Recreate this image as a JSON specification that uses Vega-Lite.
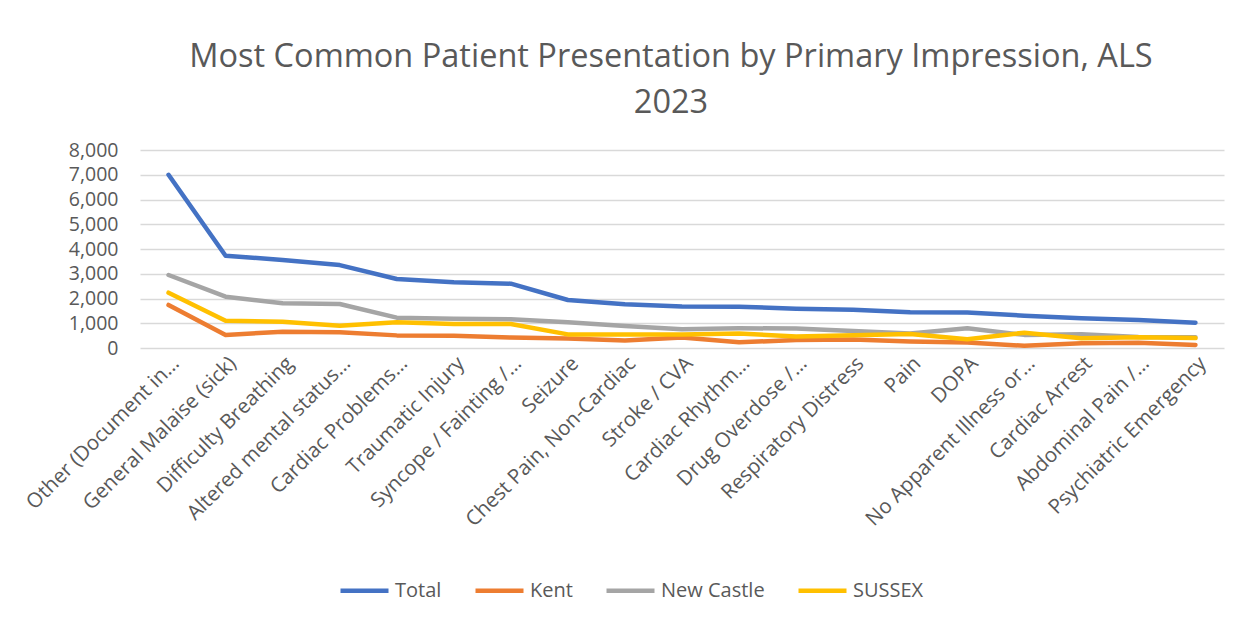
{
  "$schema": "https://vega.github.io/schema/vega-lite/v6.json",
  "width": 1084,
  "height": 198,
  "autosize": "none",
  "padding": {"left": 140, "top": 150, "right": 28, "bottom": 277},
  "background": "white",
  "title": {
    "text": ["Most Common Patient Presentation by Primary Impression, ALS", "2023"],
    "font": "Open Sans",
    "fontSize": 32.5,
    "fontWeight": "normal",
    "color": "#595959",
    "anchor": "middle",
    "lineHeight": 46,
    "offset": 21,
    "dx": -11
  },
  "datasets": {
    "rows": [
      {"cat": "Other (Document in…", "Total": 7000, "Kent": 1740, "New Castle": 2950, "SUSSEX": 2235},
      {"cat": "General Malaise  (sick)", "Total": 3730, "Kent": 525, "New Castle": 2075, "SUSSEX": 1105},
      {"cat": "Difficulty Breathing", "Total": 3555, "Kent": 660, "New Castle": 1805, "SUSSEX": 1065},
      {"cat": "Altered mental status…", "Total": 3350, "Kent": 640, "New Castle": 1780, "SUSSEX": 900},
      {"cat": "Cardiac Problems…", "Total": 2790, "Kent": 510, "New Castle": 1225, "SUSSEX": 1040},
      {"cat": "Traumatic Injury", "Total": 2660, "Kent": 495, "New Castle": 1185, "SUSSEX": 970},
      {"cat": "Syncope / Fainting /…", "Total": 2600, "Kent": 420, "New Castle": 1160, "SUSSEX": 970},
      {"cat": "Seizure", "Total": 1940, "Kent": 380, "New Castle": 1040, "SUSSEX": 550},
      {"cat": "Chest Pain, Non-Cardiac", "Total": 1765, "Kent": 300, "New Castle": 890, "SUSSEX": 550},
      {"cat": "Stroke / CVA", "Total": 1680, "Kent": 420, "New Castle": 760, "SUSSEX": 550},
      {"cat": "Cardiac Rhythm…", "Total": 1670, "Kent": 230, "New Castle": 795, "SUSSEX": 590},
      {"cat": "Drug Overdose /…", "Total": 1590, "Kent": 320, "New Castle": 790, "SUSSEX": 460},
      {"cat": "Respiratory Distress", "Total": 1550, "Kent": 340, "New Castle": 690, "SUSSEX": 520},
      {"cat": "Pain", "Total": 1440, "Kent": 260, "New Castle": 590, "SUSSEX": 565},
      {"cat": "DOPA", "Total": 1430, "Kent": 220, "New Castle": 800, "SUSSEX": 350},
      {"cat": "No Apparent Illness or…", "Total": 1305, "Kent": 90, "New Castle": 530, "SUSSEX": 620},
      {"cat": "Cardiac Arrest", "Total": 1200, "Kent": 190, "New Castle": 560, "SUSSEX": 390},
      {"cat": "Abdominal Pain /…", "Total": 1130, "Kent": 210, "New Castle": 440, "SUSSEX": 430},
      {"cat": "Psychiatric Emergency", "Total": 1020, "Kent": 120, "New Castle": 430, "SUSSEX": 400}
    ]
  },
  "data": {"name": "rows"},
  "transform": [
    {"fold": ["Total", "Kent", "New Castle", "SUSSEX"], "as": ["series", "value"]}
  ],
  "mark": {"type": "line", "strokeWidth": 4.5, "strokeCap": "round", "strokeJoin": "round"},
  "encoding": {
    "x": {
      "field": "cat",
      "type": "nominal",
      "sort": null,
      "title": null,
      "scale": {"paddingInner": 0, "paddingOuter": 0.5},
      "axis": {
        "labelAngle": -45,
        "labelAlign": "right",
        "labelBaseline": "top",
        "labelPadding": 5,
        "labelFont": "Open Sans",
        "labelFontSize": 20.5,
        "labelColor": "#595959",
        "labelLimit": 300,
        "ticks": false,
        "domain": false,
        "grid": false
      }
    },
    "y": {
      "field": "value",
      "type": "quantitative",
      "title": null,
      "scale": {"domain": [0, 8000]},
      "axis": {
        "values": [0, 1000, 2000, 3000, 4000, 5000, 6000, 7000, 8000],
        "format": ",d",
        "labelFont": "Open Sans",
        "labelFontSize": 19.5,
        "labelColor": "#595959",
        "labelPadding": 22,
        "ticks": false,
        "domain": false,
        "grid": true,
        "gridColor": "#d9d9d9",
        "gridWidth": 1.5
      }
    },
    "color": {
      "field": "series",
      "type": "nominal",
      "scale": {
        "domain": ["Total", "Kent", "New Castle", "SUSSEX"],
        "range": ["#4472C4", "#ED7D31", "#A5A5A5", "#FFC000"]
      },
      "legend": {
        "title": null,
        "orient": "none",
        "direction": "horizontal",
        "legendX": 198,
        "legendY": 414,
        "symbolType": "stroke",
        "symbolSize": 2304,
        "symbolStrokeWidth": 4.5,
        "labelFont": "Open Sans",
        "labelFontSize": 20,
        "labelColor": "#595959",
        "labelOffset": 4,
        "columnPadding": 24,
        "padding": 0
      }
    }
  },
  "config": {"view": {"stroke": null}}
}
